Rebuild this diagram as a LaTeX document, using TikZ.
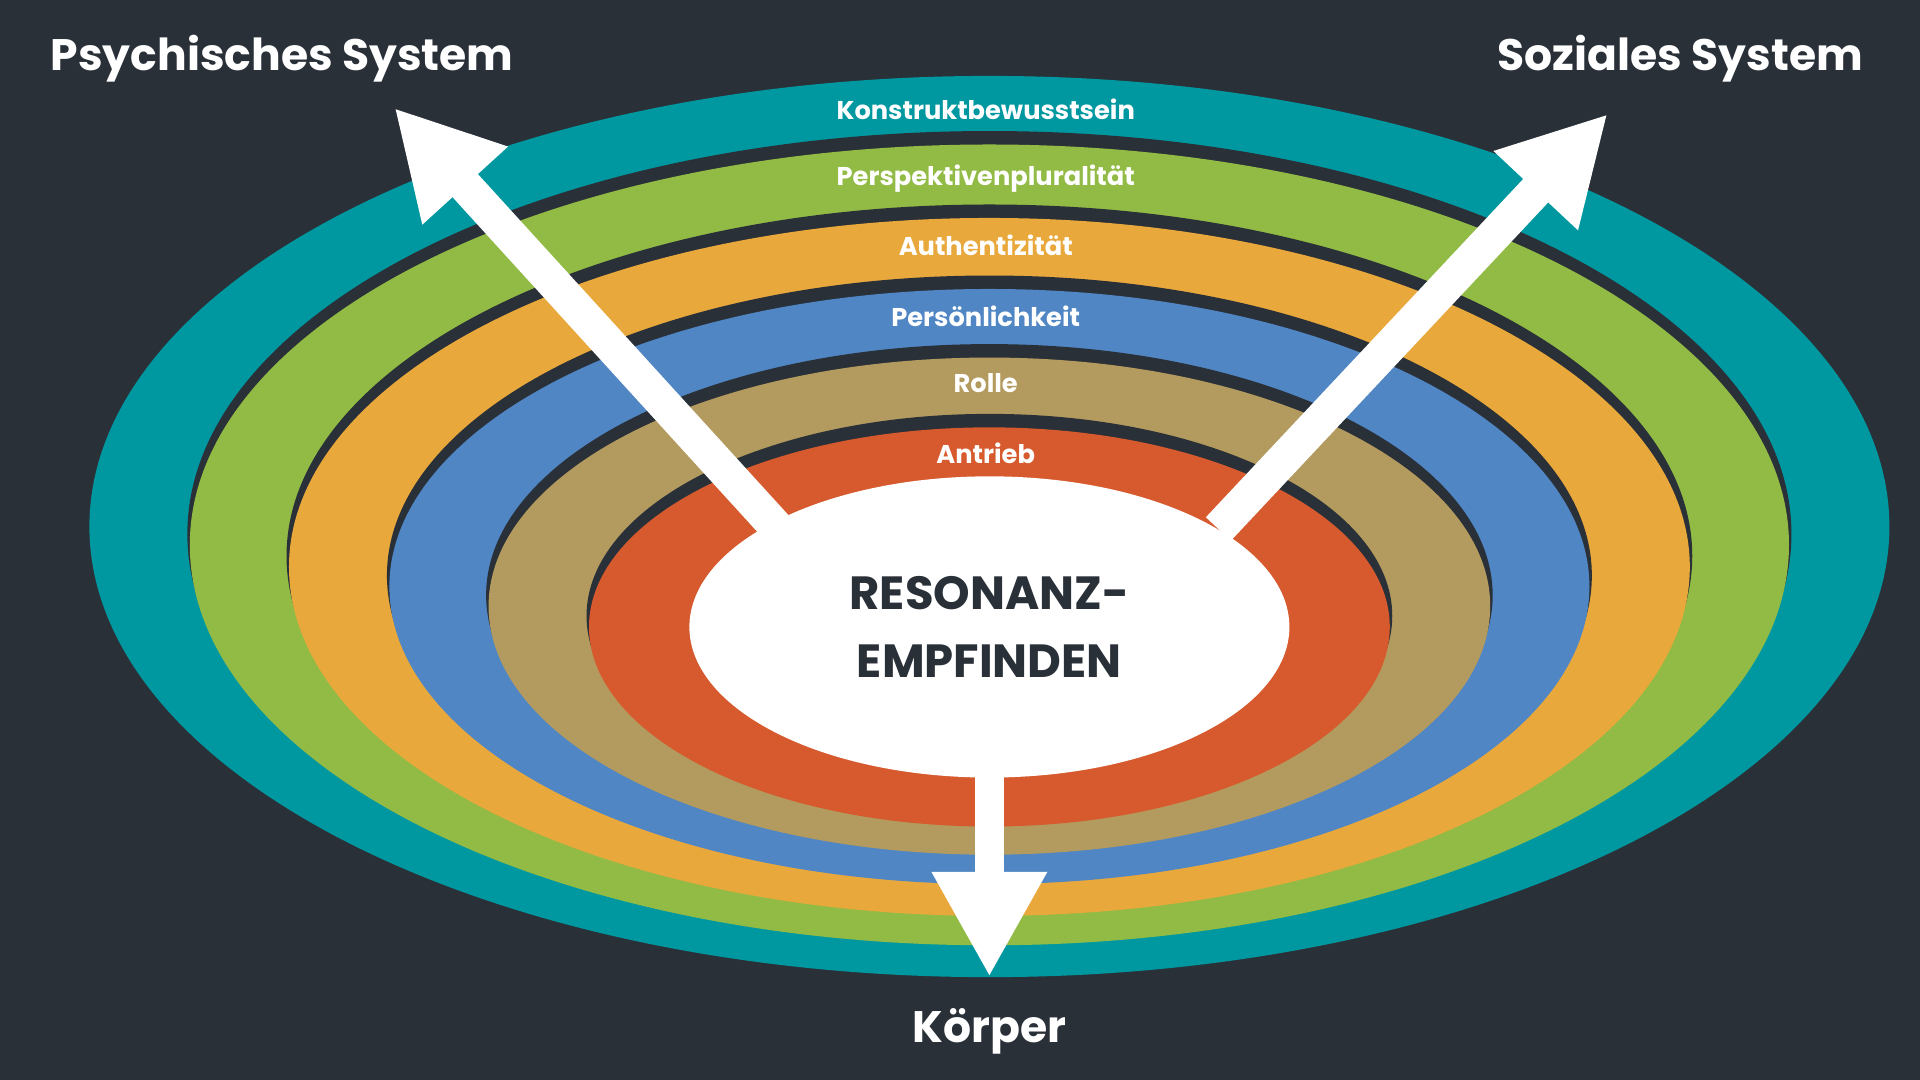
\documentclass[tikz,border=0pt]{standalone}
\usepackage{fontspec}
\setmainfont{Poppins}[BoldFont={* Bold}]
\usetikzlibrary{arrows.meta}
\definecolor{bg}{HTML}{2A3038}
\definecolor{cteal}{HTML}{0098A0}
\definecolor{cgreen}{HTML}{92BB45}
\definecolor{corange}{HTML}{E8A83C}
\definecolor{cblue}{HTML}{5086C4}
\definecolor{ctan}{HTML}{B39A5E}
\definecolor{cred}{HTML}{D65A2D}
\begin{document}
\begin{tikzpicture}[x=1pt,y=-1pt,
  lbl/.style={text=white,font=\bfseries\fontsize{21}{24}\selectfont},
  title/.style={text=white,font=\bfseries\fontsize{36}{40}\selectfont},
  arr/.style={white,line width=28pt,-{Triangle[width=88pt,length=86pt]}}]
\fill[bg] (0,0) rectangle (1568,882);
\useasboundingbox (0,0) rectangle (1568,882);
\fill[cteal] (808,430) ellipse [x radius=735,y radius=368];
\foreach \c/\cy/\rx/\ry in {cgreen/445/653/327,corange/463/572/285,cblue/479/490/243,ctan/495/409/203,cred/512/327/163}{
  \fill[bg] (808,\cy-9) ellipse [x radius=\rx+2,y radius=\ry+2];
  \fill[\c] (808,\cy) ellipse [x radius=\rx,y radius=\ry];
}
\node[lbl] (l1) at (805,89) {Konstruktbewusstsein};
\node[lbl] (l2) at (805,146) {Perspektivenpluralität};
\node[lbl] (l3) at (805,200) {Authentizität};
\node[lbl] (l4) at (805,258) {Persönlichkeit};
\node[lbl] (l5) at (805,313) {Rolle};
\node[lbl] (l6) at (805,370) {Antrieb};
\fill[white] (808,512) ellipse [x radius=245,y radius=123];
\node (c) at (808,512) [text=bg,align=center,font=\bfseries\fontsize{38}{56}\selectfont] {RESONANZ-\\EMPFINDEN};
\coordinate (a1) at (638,435); \coordinate (t1) at (322,88);
\coordinate (a2) at (995,432); \coordinate (t2) at (1313,93);
\coordinate (a3) at (808,633); \coordinate (t3) at (808,798);
\draw[arr] (a1) -- (t1);
\draw[arr] (a2) -- (t2);
\draw[white,line width=24pt,-{Triangle[width=88pt,length=86pt]}] (a3) -- (t3);
\node[title,anchor=west] (p) at (38,48) {Psychisches System};
\node[title,anchor=east] (s) at (1525,48) {Soziales System};
\node[title] (k) at (808,842) {Körper};
\end{tikzpicture}
\end{document}
